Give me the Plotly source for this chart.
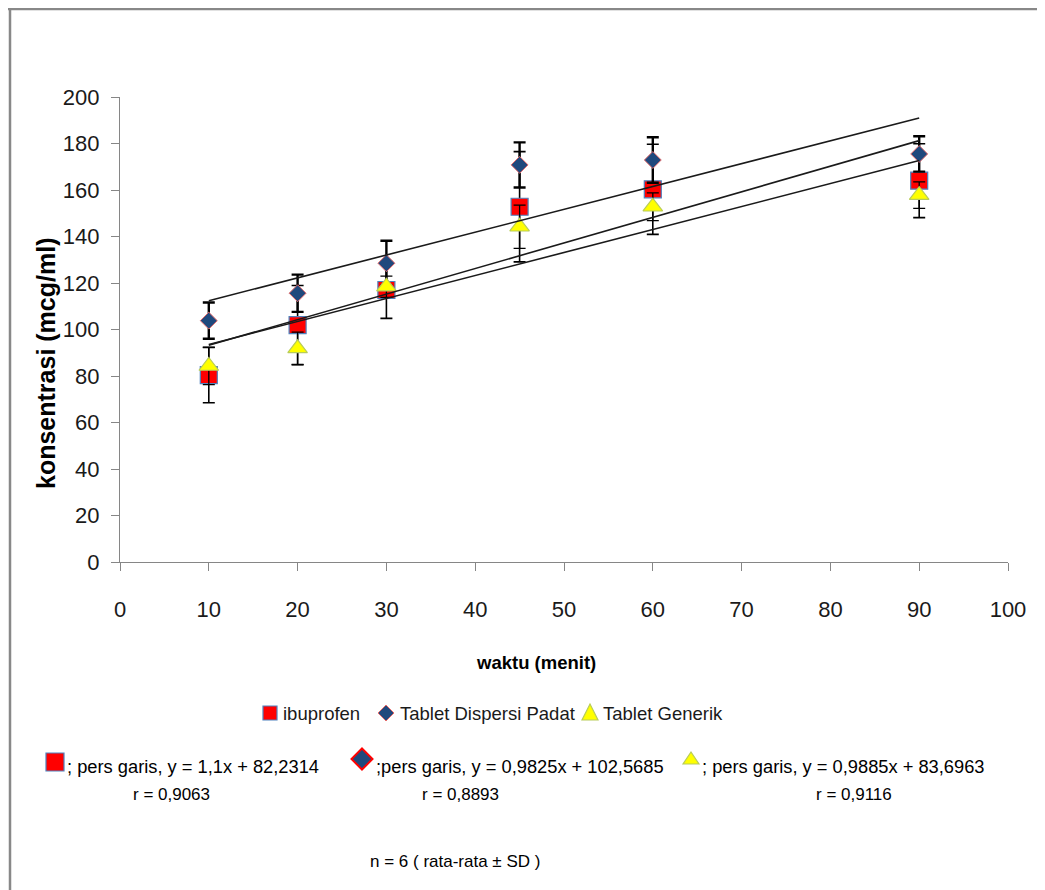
import plotly.graph_objects as go

# ---------------- data ----------------
waktu = [10, 20, 30, 45, 60, 90]

ibu_mean = [80.4, 101.9, 117.0, 152.8, 160.3, 164.0]
ibu_sd = [11.9, 17.0, 12.2, 23.7, 19.4, 15.9]

tdp_mean = [103.8, 115.6, 128.5, 170.8, 172.9, 175.5]
tdp_sd = [7.8, 8.0, 9.7, 9.7, 9.8, 7.6]

gen_mean = [84.3, 91.9, 118.4, 144.2, 152.8, 157.8]
gen_sd = [8.0, 7.0, 4.6, 9.3, 6.0, 5.7]

series_names = ["ibuprofen", "Tablet Dispersi Padat", "Tablet Generik"]
slopes = [1.1, 0.9825, 0.9885]
intercepts = [82.2314, 102.5685, 83.6963]
eq_texts = ["; pers garis, y = 1,1x + 82,2314",
            ";pers garis, y = 0,9825x + 102,5685",
            "; pers garis, y = 0,9885x + 83,6963"]
r_texts = ["r = 0,9063", "r = 0,8893", "r = 0,9116"]
trend_x = [10, 90]

x_ticks = list(range(0, 101, 10))
y_ticks = list(range(0, 201, 20))

# ---------------- layout geometry helpers ----------------
OFF = 8                      # page body margin
W, H = 1037, 882             # figure size (fits 1045x890 window with 8px body margin)
L, R, T, B = 112, 37, 89, 328
PW, PH = W - L - R, H - T - B


def px(x):                   # page pixel x -> paper
    return (x - OFF - L) / PW


def py(y):                   # page pixel y -> paper
    return (H - B - (y - OFF)) / PH


SANS = "Liberation Sans, Arial, sans-serif"

RED = "#ff0000"
SQ_EDGE = "#4f81bd"
DIA = "#1f497d"
DIA_EDGE = "#e46c6c"
YEL = "#ffff00"
TRI_EDGE = "#b8cc5a"

fig = go.Figure()

fig.add_trace(go.Scatter(
    x=waktu, y=ibu_mean, mode="markers", name=series_names[0],
    marker=dict(symbol="square", size=17, color=RED, line=dict(color=SQ_EDGE, width=1.2)),
    error_y=dict(type="data", array=ibu_sd, visible=True, color="#000", thickness=1.6, width=6),
    showlegend=False))
fig.add_trace(go.Scatter(
    x=waktu, y=tdp_mean, mode="markers", name=series_names[1],
    marker=dict(symbol="diamond", size=13, color=DIA, line=dict(color=DIA_EDGE, width=1)),
    error_y=dict(type="data", array=tdp_sd, visible=True, color="#000", thickness=2.4, width=6),
    showlegend=False))
fig.add_trace(go.Scatter(
    x=waktu, y=gen_mean, mode="markers", name=series_names[2],
    marker=dict(symbol="triangle-up", size=17, color=YEL, line=dict(color=TRI_EDGE, width=1.2)),
    error_y=dict(type="data", array=gen_sd, visible=True, color="#000", thickness=1.3, width=6),
    showlegend=False))

for s, c, n in zip(slopes, intercepts, series_names):
    fig.add_trace(go.Scatter(
        x=trend_x, y=[s * xx + c for xx in trend_x], mode="lines",
        line=dict(color="#1a1a1a", width=1.6), showlegend=False, name="trend " + n,
        hoverinfo="skip"))

shapes = []
annotations = []

# outer frame (top and left edges visible)
shapes.append(dict(type="line", xref="paper", yref="paper", x0=px(8), x1=px(OFF + W), y0=py(9), y1=py(9),
                   line=dict(color="#888888", width=2.5)))
shapes.append(dict(type="line", xref="paper", yref="paper", x0=px(10), x1=px(10), y0=py(9), y1=py(OFF + H),
                   line=dict(color="#888888", width=2.5)))


def square(x0, y0, x1, y1, lw=1.2):
    return dict(type="rect", xref="paper", yref="paper", x0=px(x0), x1=px(x1), y0=py(y1), y1=py(y0),
                fillcolor=RED, line=dict(color=SQ_EDGE, width=lw))


def diamond(cx, cy, hw, hh, edge, lw):
    p = "M {} {} L {} {} L {} {} L {} {} Z".format(
        px(cx), py(cy - hh), px(cx + hw), py(cy), px(cx), py(cy + hh), px(cx - hw), py(cy))
    return dict(type="path", xref="paper", yref="paper", path=p, fillcolor=DIA,
                line=dict(color=edge, width=lw))


def triangle(x0, y0, x1, y1):
    p = "M {} {} L {} {} L {} {} Z".format(px(x0), py(y1), px(x1), py(y1), px((x0 + x1) / 2), py(y0))
    return dict(type="path", xref="paper", yref="paper", path=p, fillcolor=YEL,
                line=dict(color=TRI_EDGE, width=1.2))


# legend row
LEG_Y = 713
shapes.append(square(263, 706, 277, 720))
shapes.append(diamond(386, LEG_Y, 8, 8, DIA_EDGE, 1))
shapes.append(triangle(582, 704, 598, 720))
leg_items = [(281, series_names[0]), (398, series_names[1]), (601, series_names[2])]
for x0, t in leg_items:
    annotations.append(dict(text=t, x=px(x0), y=py(LEG_Y), xref="paper", yref="paper",
                            xanchor="left", yanchor="middle", showarrow=False,
                            font=dict(family=SANS, size=18.5, color="#1a1a1a")))

# equation notes
L1, L2 = 766, 794
shapes.append(square(46, 753, 64, 771))
shapes.append(diamond(362, 759, 10.5, 10.5, "#ff0000", 2))
shapes.append(triangle(683, 752, 699, 764))
eq_x = [65, 374, 700]
r_x = [171, 460, 854]
for i in range(3):
    annotations.append(dict(text=eq_texts[i], x=px(eq_x[i]), y=py(L1), xref="paper", yref="paper",
                            xanchor="left", yanchor="middle", showarrow=False,
                            font=dict(family=SANS, size=18.3, color="#000")))
    annotations.append(dict(text=r_texts[i], x=px(r_x[i]), y=py(L2), xref="paper", yref="paper",
                            xanchor="center", yanchor="middle", showarrow=False,
                            font=dict(family=SANS, size=17, color="#000")))

annotations.append(dict(text="n = 6 ( rata-rata ± SD )", x=px(368), y=py(861), xref="paper", yref="paper",
                        xanchor="left", yanchor="middle", showarrow=False,
                        font=dict(family=SANS, size=17, color="#000")))

# axis titles
annotations.append(dict(text="<b>waktu (menit)</b>", x=px(536), y=py(662), xref="paper", yref="paper",
                        xanchor="center", yanchor="middle", showarrow=False,
                        font=dict(family=SANS, size=18.5, color="#000")))
annotations.append(dict(text="<b>konsentrasi (mcg/ml)</b>", x=px(46), y=py(364), xref="paper", yref="paper",
                        xanchor="center", yanchor="middle", showarrow=False, textangle=-90,
                        font=dict(family=SANS, size=25, color="#000")))

fig.update_layout(
    width=W, height=H,
    margin=dict(l=L, r=R, t=T, b=B, pad=0),
    paper_bgcolor="white", plot_bgcolor="white",
    shapes=shapes, annotations=annotations,
    showlegend=False,
)
fig.update_xaxes(range=[0, 100], tickvals=x_ticks, ticktext=[str(v) for v in x_ticks],
                 showgrid=False, zeroline=False, showline=True, linecolor="#868686", linewidth=1.2,
                 ticks="outside", ticklen=8, tickcolor="#868686", tickwidth=1.2,
                 ticklabelstandoff=19,
                 tickfont=dict(family=SANS, size=22, color="#1a1a1a"))
fig.update_yaxes(range=[0, 200], tickvals=y_ticks, ticktext=[str(v) for v in y_ticks],
                 showgrid=False, zeroline=False, showline=True, linecolor="#868686", linewidth=1.2,
                 ticks="outside", ticklen=8, tickcolor="#868686", tickwidth=1.2,
                 ticklabelstandoff=7,
                 tickfont=dict(family=SANS, size=22, color="#1a1a1a"))

fig.write_html("out.html")
